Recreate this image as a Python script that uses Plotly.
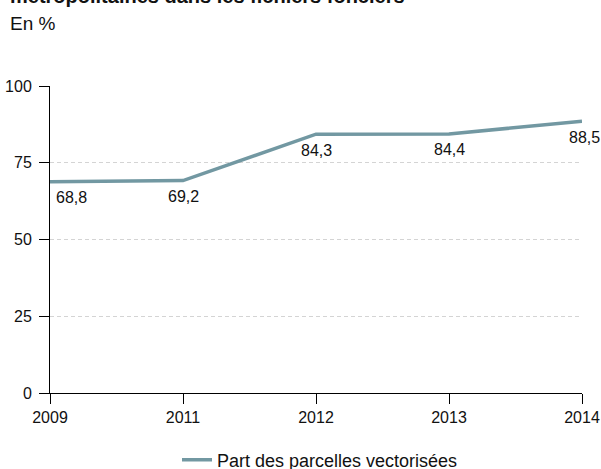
import plotly.graph_objects as go

years = ["2009", "2011", "2012", "2013", "2014"]
values = [68.8, 69.2, 84.3, 84.4, 88.5]
value_labels = ["68,8", "69,2", "84,3", "84,4", "88,5"]
series_name = "Part des parcelles vectorisées"
y_ticks = [0, 25, 50, 75, 100]

FONT = "Liberation Sans, Arial, sans-serif"
LINE_COLOR = "#7298a2"

W, H = 601, 469
ML, MR, MT, MB = 50, 19, 86, 76
PH = H - MT - MB
PW = W - ML - MR

def py(p):
    return (H - MB - p) / PH

def px(p):
    return (p - ML) / PW

fig = go.Figure()
fig.add_trace(go.Scatter(
    x=years, y=values, mode="lines", name=series_name,
    line=dict(color=LINE_COLOR, width=3.5),
    hoverinfo="skip",
))

annotations = []
for i, (v, lab) in enumerate(zip(values, value_labels)):
    annotations.append(dict(
        x=i, y=v, xref="x", yref="y", text=lab, showarrow=False,
        xanchor="left" if i == 0 else "center",
        xshift=4 if i == 0 else (2 if i == len(years) - 1 else 0),
        yanchor="middle", yshift=-16,
        font=dict(family=FONT, size=16, color="#111111"),
    ))

annotations.append(dict(
    x=px(8), y=py(9), xref="paper", yref="paper", xanchor="left", yanchor="bottom",
    text="<b>métropolitaines dans les fichiers fonciers</b>", showarrow=False,
    font=dict(family=FONT, size=20, color="#111111"),
))
annotations.append(dict(
    x=px(8), y=py(36), xref="paper", yref="paper", xanchor="left", yanchor="bottom",
    text="En %", showarrow=False,
    font=dict(family=FONT, size=19, color="#111111"),
))

fig.update_layout(
    width=W, height=H,
    margin=dict(l=ML, r=MR, t=MT, b=MB, pad=0, autoexpand=False),
    paper_bgcolor="white", plot_bgcolor="white",
    font=dict(family=FONT, size=16, color="#111111"),
    showlegend=True,
    legend=dict(orientation="h", x=px(177), xanchor="left", y=py(460), yanchor="middle",
                font=dict(family=FONT, size=18, color="#111111"), bgcolor="rgba(0,0,0,0)"),
    annotations=annotations,
    xaxis=dict(
        type="category", range=[0, len(years) - 1], automargin=False,
        showline=True, linecolor="black", linewidth=1,
        ticks="outside", ticklen=10, tickcolor="black", tickwidth=1,
        showgrid=False, zeroline=False,
        tickfont=dict(family=FONT, size=16, color="#111111"),
    ),
    yaxis=dict(
        range=[0, 100], tickvals=y_ticks, ticktext=[str(t) for t in y_ticks],
        automargin=False,
        showline=True, linecolor="black", linewidth=1,
        ticks="outside", ticklen=10, tickcolor="black", tickwidth=1,
        showgrid=True, gridcolor="#d4d4d4", gridwidth=1, griddash="4px,3px",
        zeroline=False, ticklabelstandoff=4,
        tickfont=dict(family=FONT, size=16, color="#111111"),
    ),
)

fig.write_html("out.html", config={"displayModeBar": False},
               post_script="document.body.style.margin='0';")
